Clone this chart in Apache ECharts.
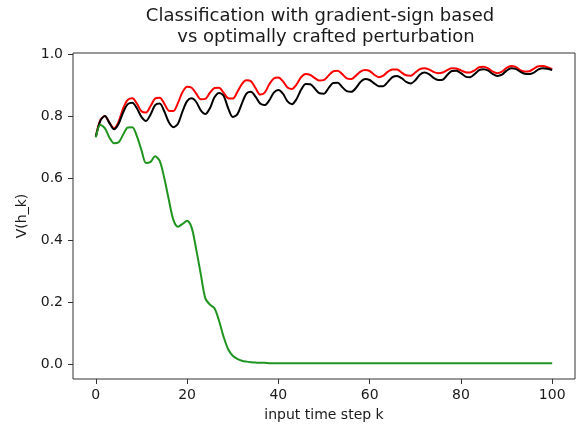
<!DOCTYPE html>
<html>
<head>
<meta charset="utf-8">
<script src="https://cdn.jsdelivr.net/npm/echarts@6/dist/echarts.min.js"></script>
<style>html,body{margin:0;padding:0;background:#fff;}#c{width:583px;height:427px;}</style>
</head>
<body>
<div id="c"></div>
<script>
var steps = [];
for (var i = 0; i <= 100; i++) steps.push(i);

var xTicks = [0, 20, 40, 60, 80, 100];
var yTicks = [0, 0.2, 0.4, 0.6, 0.8, 1.0];

var redValues = [
 0.733,0.787,0.800,0.778,0.760,0.782,0.825,0.852,0.857,0.840,
 0.815,0.811,0.832,0.856,0.859,0.840,0.817,0.816,0.842,0.877,
 0.894,0.891,0.872,0.854,0.855,0.875,0.890,0.891,0.875,0.857,
 0.856,0.877,0.903,0.915,0.912,0.890,0.869,0.875,0.902,0.921,
 0.924,0.912,0.892,0.887,0.902,0.925,0.935,0.932,0.922,0.914,
 0.916,0.930,0.944,0.946,0.935,0.921,0.919,0.930,0.943,0.948,
 0.945,0.933,0.925,0.930,0.943,0.950,0.950,0.940,0.931,0.930,
 0.940,0.951,0.954,0.950,0.942,0.938,0.940,0.948,0.954,0.953,
 0.947,0.941,0.940,0.947,0.957,0.959,0.953,0.943,0.938,0.943,
 0.955,0.961,0.958,0.948,0.943,0.944,0.953,0.960,0.961,0.957,
 0.951
];

var blackValues = [
 0.733,0.785,0.800,0.777,0.757,0.775,0.812,0.838,0.843,0.825,
 0.797,0.784,0.805,0.835,0.840,0.815,0.780,0.764,0.775,0.815,
 0.848,0.857,0.845,0.818,0.806,0.825,0.860,0.874,0.865,0.825,
 0.797,0.805,0.840,0.872,0.878,0.862,0.840,0.835,0.850,0.875,
 0.884,0.872,0.847,0.838,0.855,0.885,0.903,0.902,0.888,0.873,
 0.872,0.890,0.906,0.907,0.893,0.880,0.878,0.890,0.910,0.919,
 0.916,0.905,0.896,0.896,0.910,0.925,0.929,0.922,0.910,0.905,
 0.915,0.933,0.940,0.935,0.923,0.916,0.917,0.932,0.945,0.946,
 0.938,0.927,0.925,0.935,0.948,0.951,0.946,0.935,0.929,0.933,
 0.946,0.954,0.952,0.943,0.936,0.935,0.940,0.950,0.954,0.952,
 0.948
];

var greenValues = [
 0.731,0.772,0.760,0.730,0.712,0.715,0.740,0.763,0.764,0.735,
 0.690,0.648,0.652,0.670,0.655,0.600,0.530,0.465,0.443,0.452,
 0.462,0.440,0.370,0.290,0.212,0.192,0.180,0.140,0.088,0.048,
 0.027,0.017,0.011,0.008,0.006,0.005,0.004,0.004,0.003,0.003,
 0.003,0.003,0.003,0.003,0.003,0.003,0.003,0.003,0.003,0.003,
 0.003,0.003,0.003,0.003,0.003,0.003,0.003,0.003,0.003,0.003,
 0.003,0.003,0.003,0.003,0.003,0.003,0.003,0.003,0.003,0.003,
 0.003,0.003,0.003,0.003,0.003,0.003,0.003,0.003,0.003,0.003,
 0.003,0.003,0.003,0.003,0.003,0.003,0.003,0.003,0.003,0.003,
 0.003,0.003,0.003,0.003,0.003,0.003,0.003,0.003,0.003,0.003,
 0.003
];

var titleLine1 = 'Classification with gradient-sign based';
var titleLine2 = 'vs optimally crafted perturbation';
var xName = 'input time step k';
var yName = 'V(h_k)';

function pairs(vals) {
  return steps.map(function (k, i) { return [k, vals[i]]; });
}

var FONT = 'DejaVu Sans';
var TXT = '#1a1a1a';

var chart = echarts.init(document.getElementById('c'), null, {renderer: 'canvas'});
chart.setOption({
  animation: false,
  backgroundColor: '#fff',
  title: [
    {text: titleLine1, left: 320, top: 7, textAlign: 'center', padding: 0,
     textStyle: {fontFamily: FONT, fontSize: 18, fontWeight: 'normal', color: TXT}},
    {text: titleLine2, left: 326, top: 28, textAlign: 'center', padding: 0,
     textStyle: {fontFamily: FONT, fontSize: 18, fontWeight: 'normal', color: TXT}}
  ],
  grid: {
    left: 73, right: 8, top: 53, bottom: 48,
    show: true, borderColor: '#333', borderWidth: 1, backgroundColor: 'transparent',
    containLabel: false, outerBoundsMode: 'none'
  },
  xAxis: {
    type: 'value', min: -5, max: 105,
    name: xName, nameLocation: 'middle', nameGap: 29,
    nameTextStyle: {fontFamily: FONT, fontSize: 14, color: TXT},
    axisLine: {show: false, onZero: false},
    splitLine: {show: false},
    axisTick: {show: true, length: 5, lineStyle: {color: '#333', width: 1}, customValues: xTicks},
    axisLabel: {customValues: xTicks, margin: 9, fontFamily: FONT, fontSize: 14, color: TXT,
      formatter: function (v) { return String(Math.round(v)); }}
  },
  yAxis: {
    type: 'value', min: -0.048, max: 1.003,
    name: yName, nameLocation: 'middle', nameGap: 38, nameRotate: 90,
    nameTextStyle: {fontFamily: FONT, fontSize: 14, color: TXT},
    axisLine: {show: false, onZero: false},
    splitLine: {show: false},
    axisTick: {show: true, length: 5, lineStyle: {color: '#333', width: 1}, customValues: yTicks},
    axisLabel: {customValues: yTicks, margin: 10, fontFamily: FONT, fontSize: 14, color: TXT,
      formatter: function (v) { return v.toFixed(1); }}
  },
  series: [
    {type: 'line', data: pairs(redValues), showSymbol: false, smooth: 0.3,
     lineStyle: {color: '#ff0000', width: 2}, itemStyle: {color: '#ff0000'}},
    {type: 'line', data: pairs(blackValues), showSymbol: false, smooth: 0.3,
     lineStyle: {color: '#000000', width: 2}, itemStyle: {color: '#000000'}},
    {type: 'line', data: pairs(greenValues), showSymbol: false, smooth: 0.3,
     lineStyle: {color: '#1f951f', width: 2}, itemStyle: {color: '#1f951f'}}
  ]
});
</script>
</body>
</html>
